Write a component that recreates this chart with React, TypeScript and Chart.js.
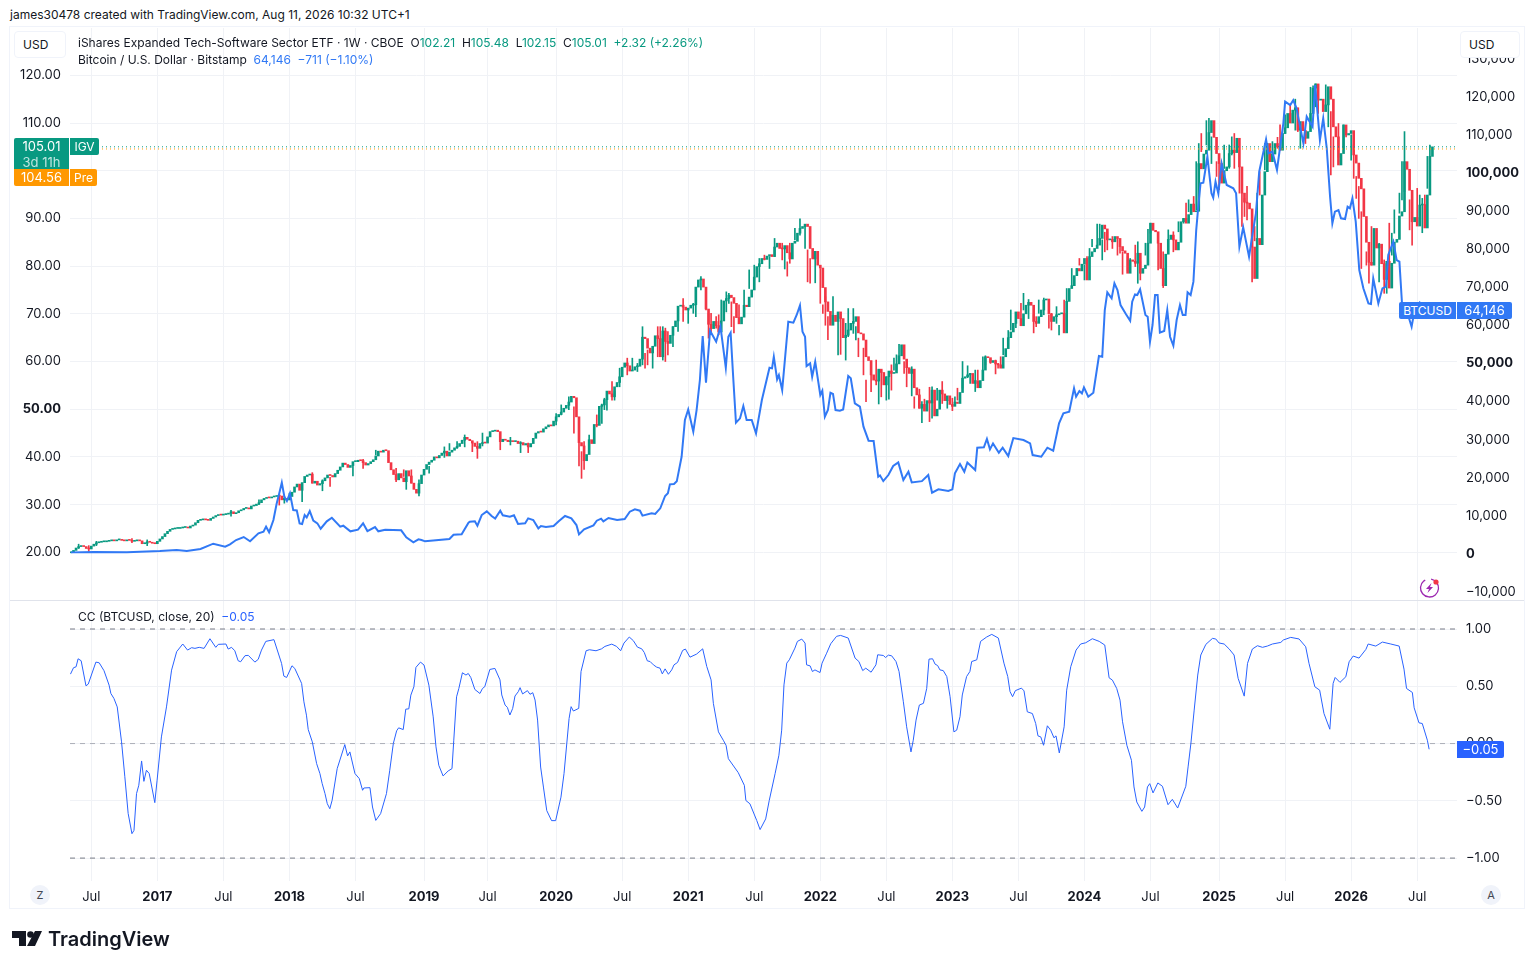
import { useEffect, useRef } from 'react';
import { Chart, registerables } from 'chart.js';

Chart.register(...registerables);
Chart.defaults.font.family = 'Inter, "Noto Sans", sans-serif';

const GREEN = '#089981';
const RED = '#F23645';
const ORANGE = '#FF9800';
const BTC_BLUE = '#3179F5';
const CC_BLUE = '#2962FF';
const GRID = '#F0F2F6';
const TEXT = '#131722';

// weekly IGV closes, one row per half year (each row starts at a time-axis tick)
const igvClose = [
  20.1, 20.4, 20.9, 21.2, 21.3, 21.2, 20.8, 20.7,
  21.3, 21.7, 22, 22.1, 22.2, 22.2, 22.3, 22.4, 22.5, 22.4, 22.6, 22.6, 22.5, 22.4, 22.6, 22.5, 22.3, 22.4, 22.5, 22.4, 21.8, 21.9, 22.2, 22.1, 21.9, 21.8,
  22.3, 22.8, 23.3, 23.9, 24.4, 24.8, 24.9, 25, 25, 25.1, 25.2, 25.3, 25.1, 25.5, 25.7, 26.2, 26.7, 26.8, 26.9, 26.8, 26.7, 27.1, 27.4, 27.7, 27.9, 27.8,
  27.9, 28, 28.2, 28.5, 28.1, 28.3, 28.7, 28.9, 29.2, 29.3, 29.1, 29.7, 29.8, 30.1, 30.4, 31, 31.3, 31.5, 31.4, 31.6, 31.7, 31.9, 31.8, 31, 31.3, 31,
  31.7, 32.6, 33.7, 34.3, 33, 34.6, 35.9, 36.2, 36.4, 34.5, 34.9, 34.1, 34.4, 35, 35.6, 36.2, 36.1, 35.8, 36.5, 37.2, 37.9, 38.7, 38.4, 37.8, 38.2, 39,
  39, 39.3, 39.2, 38.8, 38.3, 38.6, 39, 39.4, 40.2, 41.2, 41, 41.4, 41.3, 38.8, 37.3, 36.3, 35.2, 36.5, 35.6, 34.8, 37.1, 36, 34.5, 33.2, 32.4, 34.4, 36.2,
  37.4, 38.4, 38.9, 39.3, 40, 39.8, 40.3, 40.8, 41.2, 40.2, 41, 41.4, 41.9, 42.2, 42.8, 43.5, 44.1, 43.7, 43.4, 42.9, 42.2, 41.8, 42.8, 43, 42.9,
  44.2, 45.3, 45.4, 45.6, 45.3, 43.2, 43.7, 43.5, 43.2, 43.4, 43.2, 43.3, 42.8, 43, 42.5, 42.8, 42.1, 42.8, 43.9, 45, 45.3, 45.2, 45.9, 46.3, 46.7, 46.5, 47.5,
  48.4, 48.9, 49.4, 50.2, 50.8, 51.5, 52.7, 52.4, 48.4, 43, 42.3, 39.2, 40.5, 43.6, 42.8, 46.8, 46.6, 50.6, 50.9, 52, 53.8, 53.2, 52.6, 54.7, 55.6, 56.8,
  58.8, 59.7, 59.1, 58, 58.2, 58.9, 59, 60.5, 65.1, 64.8, 62.8, 61.8, 63.2, 65.4, 64.8, 61, 66.4, 64.2, 63.8, 65.5, 67.3, 68.5, 71.6, 71.8, 71.4, 70.8,
  71.2, 71.8, 71.9, 75.6, 77.1, 77.3, 75.6, 71, 67.8, 66.9, 68.4, 67.5, 66.2, 68.5, 72.7, 73.2, 73.9, 73.4, 72.2, 69.2, 67.9, 69.3, 71.8, 71.5, 73.5, 75, 77.7,
  79.9, 80.5, 81.6, 81.4, 82.1, 82.4, 82, 84, 84.8, 83.7, 83.6, 84.3, 82.8, 81.5, 84.8, 85.2, 86.9, 87.9, 88.3, 88.8, 88.3, 83.7, 81.5, 83.1, 80.2, 79.6,
  75.5, 72.5, 70.5, 67.6, 69.7, 68.4, 70.4, 69, 65, 65.5, 66.6, 68, 68.4, 69.4, 66, 65.8, 64.5, 61, 60.2, 57.2, 56.1, 55.9, 58.4, 57.7, 55.1, 56.8,
  58, 57.5, 57.6, 59.5, 61.2, 63.5, 60.5, 58.7, 57.5, 58.4, 54.5, 53, 50.2, 51, 49.6, 51.8, 51.3, 54, 48.6, 50, 54, 53.2, 51.8, 52.8, 51, 50.6,
  51.5, 51.2, 53.5, 56.5, 56.8, 57.2, 57.5, 55.4, 56, 54.5, 56, 58.2, 61, 60.8, 59.8, 60.2, 59.5, 59.3, 58.6, 61, 62.7, 65, 66.2, 68, 70.4, 69,
  67.5, 70, 71.8, 72.4, 71.8, 68.4, 68, 69.4, 70.8, 72.9, 73.1, 70, 68.4, 69.4, 69.8, 70, 70.1, 66, 72.6, 75.3, 75.9, 78, 79.5, 79, 80.4, 81.6,
  77.1, 82, 83, 83.7, 84.4, 85.8, 88.6, 87.8, 85.5, 85.6, 85.1, 86.2, 85.8, 84.1, 83.2, 82.7, 78.5, 81.3, 81, 80.6, 82.7, 78.5, 79.5, 80.2, 84.8, 89,
  87.5, 87.2, 84.8, 79.5, 75.9, 82.5, 85.6, 86.5, 85.5, 83.4, 85, 89.3, 90, 89, 90.8, 93, 91.4, 91.5, 101.5, 100.4, 103.5, 104.3, 108, 110.5, 107, 103.6, 101.5,
  97.4, 100, 100.8, 103.6, 104.3, 103.8, 106.8, 100.8, 95.3, 93.4, 93.2, 92, 84, 77.4, 85.8, 84.5, 94.9, 99.8, 105.7, 101.9, 103.5, 105.7, 105, 104.3, 107.8, 109,
  112, 110, 112.7, 113.2, 108.5, 110.3, 108.4, 106.8, 108.2, 112, 117.3, 118.2, 114.8, 115, 112.4, 113.8, 117.6, 115, 109.2, 107.1, 101.2, 103.6, 109.6, 107.5, 107.8, 108.4,
  103.3, 101.6, 98.4, 96.2, 90.4, 85, 80.8, 80.2, 87.9, 83.8, 84.6, 80.5, 77.2, 81, 75.4, 80.6, 85, 85.6, 90.5, 91.4, 101.9, 100.3, 95.9, 89.3, 90.2, 88.4,
  92.8, 92.9, 88, 94.9, 103, 105.01,
];

// visible wicks only: week number, low and high of that week
const wickWeek = [
  3, 7, 10, 24, 30, 63, 74, 82, 84, 86, 91, 95, 99, 102, 111, 115, 120, 128, 131, 132, 134, 137, 141, 147, 149, 152, 155, 158, 160,
  162, 169, 173, 177, 180, 191, 193, 196, 198, 200, 201, 202, 204, 207, 209, 210, 211, 213, 214, 216, 219, 221, 223, 225, 226, 227, 229,
  231, 232, 233, 234, 235, 237, 239, 241, 243, 245, 246, 248, 250, 251, 252, 254, 255, 256, 258, 259, 260, 261, 263, 265, 267, 269, 271,
  273, 275, 277, 280, 281, 282, 283, 285, 287, 289, 290, 291, 293, 295, 296, 297, 298, 300, 302, 303, 305, 306, 308, 309, 310, 312, 313,
  315, 317, 318, 319, 321, 322, 323, 324, 325, 326, 328, 329, 331, 332, 334, 335, 336, 338, 339, 341, 343, 345, 347, 348, 349, 351, 353,
  354, 356, 357, 359, 360, 362, 364, 365, 366, 367, 369, 370, 372, 374, 375, 377, 379, 380, 381, 383, 385, 386, 388, 389, 391, 392, 394,
  396, 397, 399, 400, 401, 402, 404, 405, 406, 407, 408, 410, 412, 413, 414, 416, 417, 419, 420, 421, 423, 424, 425, 428, 430, 432, 434,
  436, 438, 439, 440, 442, 443, 444, 445, 447, 448, 449, 451, 452, 454, 456, 457, 458, 460, 461, 462, 463, 465, 466, 467, 468, 470, 471,
  473, 475, 476, 478, 480, 482, 483, 484, 486, 488, 489, 490, 491, 494, 495, 496, 497, 499, 501, 502, 504, 505, 506, 507, 508, 510, 511,
  512, 513, 515, 517, 518, 519, 520, 521, 523, 524, 525, 527, 528, 530, 531, 532, 533, 534, 535,
];
const wickLow = [
  20.8, 20.2, 21.4, 22, 21.4, 27.6, 30, 29.9, 30.3, 31, 30.6, 34.5, 32.9, 33.8, 36, 37.6, 40.4, 34.8, 35.9, 33.2, 34.5, 31.8, 36.6, 39.9, 41.4, 41.8, 42.1, 41.1, 39.7,
  42.3, 41.5, 42.5, 40.9, 40.9, 46.7, 48.8, 49.9, 45, 38.1, 35.5, 37.4, 41.1, 46.3, 47, 49.9, 49.8, 51.9, 51.9, 54.7, 57.2, 58.2, 57.9, 59.3, 58.6, 59.3, 58.6,
  61, 63.5, 60.3, 60, 61.4, 63.1, 66.3, 68.4, 68, 70.1, 69.4, 75, 70.8, 64.9, 65.9, 67, 65.6, 68, 70.4, 72.2, 67.3, 66, 68.4, 71.9, 75.3, 77.1, 76.7,
  81.3, 79.5, 82, 81.3, 79.4, 77.9, 80.6, 85.5, 86.5, 83.7, 76.7, 76.4, 76.5, 72.2, 70.1, 67.6, 64.6, 68, 61.4, 61.5, 60.3, 65.2, 65.9, 64.5, 61, 57.2, 51.6,
  53.7, 55.1, 51.1, 52.6, 51.9, 52.1, 54, 58.2, 58.2, 60.3, 57.5, 54.7, 52.8, 50.2, 50.2, 47.2, 49.7, 47.4, 48.1, 51.9, 51.2, 50.2, 49.7, 51.1, 51.9, 54.4, 56.6,
  55.4, 53.7, 56.1, 57.5, 59.3, 59.6, 57.4, 58.6, 58.9, 61.4, 64.5, 66.6, 67.1, 67.6, 70.8, 69, 66, 67.3, 70.1, 69.8, 67, 66.6, 68, 65.6, 68.7, 72.5, 75.8,
  78.1, 80.2, 77.1, 77.4, 81.6, 84.1, 84.4, 85.5, 81.3, 83, 83.4, 83.7, 82.3, 82.7, 78.3, 79, 80.6, 79.9, 76.4, 77.1, 82.3, 84.8, 86.9, 79.2, 75.5, 85.5, 83,
  87.2, 89, 89.7, 91.4, 91.8, 91.8, 100.9, 104, 105.4, 105.7, 101.5, 98.8, 96, 100.5, 100.5, 103.3, 100.5, 95.3, 88.3, 90.4, 89.7, 76.7, 85.3, 83, 94.9, 100.2, 101.2,
  102.6, 104.7, 104.3, 107.8, 110.6, 108.5, 108.2, 104.7, 105.7, 112, 114.7, 113.4, 112, 112.7, 109.2, 99.1, 100.8, 102.8, 104.7, 107.1, 102.2, 98.4, 94.2, 90, 79.5, 80.2, 76.4,
  80.2, 82.7, 76.7, 74.3, 74.3, 80.6, 82.3, 86.9, 91.1, 93.9, 95.6, 87.6, 84.4, 89.7, 90.4, 87, 89.7, 96.3, 102.2,
];
const wickHigh = [
  21.7, 21.4, 22.3, 22.9, 22.6, 28.8, 31, 32, 31.7, 32.4, 34.5, 36.7, 35.2, 35.7, 38.3, 39.5, 41.4, 37.6, 37.3, 35.9, 37.3, 35.2, 38, 42.1, 42.8, 43.2, 44.6, 43.2, 43.2,
  45, 43.7, 44.1, 43.2, 42.9, 49.1, 50.9, 52.6, 50.5, 44.6, 41.1, 43.2, 44.6, 48.8, 51.1, 52.3, 53.5, 55.8, 53.7, 58.6, 60.7, 60.7, 59.6, 67.3, 61.7, 62.4, 62.1,
  67.3, 67.3, 67.3, 67, 66.3, 67.3, 68.4, 73.2, 71.1, 72.2, 72.9, 77.8, 75.3, 70.1, 70.1, 69.4, 69.8, 72.9, 74.6, 74.3, 72.5, 69.4, 71.9, 75, 79.2, 80.2, 81.6,
  82.3, 82, 85.8, 84.8, 83.7, 80.9, 84.8, 87.9, 89.9, 88.6, 83.4, 81.6, 82, 79.5, 71.9, 73.6, 69.4, 73.6, 69.4, 69.4, 68, 71.1, 71.1, 67.3, 64.9, 62.8, 56.1,
  59.3, 60.3, 58.2, 58.2, 56.8, 57.5, 59.3, 60.7, 61.4, 63.6, 60, 58.6, 58.9, 52.6, 54.2, 51.6, 52.1, 54.6, 54.7, 54.4, 55.8, 51.9, 52.3, 52.6, 54.4, 60, 59.1,
  57.5, 58.2, 58.2, 61, 61.2, 60.5, 60.3, 59.6, 61, 64.9, 66.5, 70.8, 69.5, 72.2, 74.3, 73, 69.8, 69.4, 72.9, 73.3, 69.8, 70.1, 71.5, 67.6, 72.9, 75.3, 79.5,
  79.5, 81.6, 80.2, 82, 83.7, 85.6, 88.8, 88.8, 85.5, 87.1, 87.2, 86.2, 85.8, 85.5, 83, 82, 81.6, 84.4, 85.1, 80.9, 84.8, 87.7, 89, 85.8, 83, 87.6, 87.2,
  89.3, 90, 93.2, 93.9, 94.6, 101.9, 105.7, 107.8, 110.5, 111, 107.1, 101.9, 102.6, 105.4, 105.4, 107.1, 107.8, 100.8, 98.8, 94.2, 96.7, 89.7, 88.3, 95.3, 99.8, 105.7, 105.7,
  106.1, 107, 109.6, 111.7, 113.8, 115, 110.3, 109.6, 108.5, 117.5, 117.8, 118.2, 115.9, 118, 116.6, 112.4, 107.1, 109.9, 109.6, 108.9, 107.5, 105.4, 98.8, 96.7, 91.4, 83, 82.7,
  88.3, 87.2, 84.8, 81.3, 80.6, 89, 86.9, 91.8, 95.3, 101.9, 108.2, 93.9, 95.3, 96.3, 94.9, 94.2, 94.9, 103, 105.4,
];

const btcWeek = [
  0, 9, 22, 35, 41.6, 45.6, 51, 56, 60.7, 62.6, 65, 68, 70.5, 73.8, 75.8, 76.8, 78, 79.7, 81, 82, 83, 84, 85, 86.2, 87.5, 88.9, 90, 91, 92, 92.8, 94, 95.4, 97, 98.3,
  100.7, 102.7, 106, 107.2, 110, 113, 115, 116.7, 119.7, 121, 123.7, 130, 132, 134.8, 136.8, 138, 139.4, 149, 150.6, 153.8, 156.5,
  157, 159, 160, 161.7, 163.7, 165.6, 167, 169, 170, 172.8, 174.4, 176, 178.8, 180, 182, 184, 185, 187, 190, 192, 194.5, 197, 199, 200, 202, 205.7, 207, 208.7, 209.6, 211.6,
  215, 218, 220, 222, 224, 225, 228.6, 230, 232, 233.9, 235, 235.8, 237.4, 238.5, 239.5, 240.4, 241.7, 243, 245, 246.3, 247.6, 248.7, 250, 251.6, 254, 255.7, 257.8, 258.8, 259.7,
  260.7, 261.8, 263.4, 264.7, 266, 268, 269.7, 272, 275, 276, 276.7, 278, 278.7, 280, 282.4, 284.4, 285.7, 287, 288, 289, 289.6, 291, 291.8, 293, 295, 295.8, 296.8, 298, 299,
  300, 301, 302.7, 304, 306, 307, 308.6, 310.6, 312, 314, 316, 317.8, 318.5, 319.8, 321.8, 323.7, 325.7, 327.7, 329.7, 331, 335, 337.5, 339, 341.5, 345.4, 347, 348, 350, 351.7, 352.9,
  356, 356.8, 359.4, 360.6, 361.8, 363, 365.3, 366.8, 369, 371, 375, 377.6, 378.6, 382, 384.4, 386.7, 389, 390.7, 393, 394.9, 395.7, 397, 398, 398.8, 400.5, 402.5, 404.7, 406, 407, 408,
  409.7, 410.8, 412, 413.2, 415.3, 417, 417.8, 418.9, 419.8, 420.9, 423, 423.9, 424.8, 425.8, 426.8, 427.8, 428.7, 430.4, 431.6, 432.7, 434, 435.3, 436.6, 437.7, 438.8, 439.6, 440.8, 441.9,
  443, 443.8, 444.7, 445.8, 447.4, 449, 449.7, 450.6, 451.7, 453, 455, 457.6, 458.7, 460, 461.5, 463.8, 464.8, 466.5, 467.8, 470.5, 471.4, 473, 474.8, 477.3, 478, 480, 481.2, 482.5, 483.9,
  485.2, 486.5, 488.8, 489.8, 491.7, 493, 494.4, 495.7, 496.6, 497.6, 499, 500, 501.6, 502.6, 503.5, 504.5, 505.8, 507.2, 508.8, 510.8, 511.8, 512.7, 514.7, 516.3, 517.7, 518.6, 520.6, 521.9,
  523, 524.1, 525.8, 527.8, 528.5, 531, 535,
];
const btcPrice = [
  400, 500, 450, 750, 1000, 750, 1280, 2680, 1900, 2500, 3640, 4430, 3300, 5400, 5830, 7150, 5660, 8900, 13270, 15900, 18700, 15000, 13880, 15900, 11500, 11400, 8000, 7840, 10200, 9590, 11250, 8720, 8020, 6620,
  8540, 9500, 7140, 7400, 5920, 6360, 8020, 6000, 7050, 5920, 6360, 6180, 4340, 3030, 3820, 3640, 3300, 3900, 5040, 5130, 8200,
  8450, 8545, 7400, 10200, 11170, 9950, 9250, 11340, 10120, 9770, 10120, 7850, 8020, 9330, 8900, 6700, 7320, 7050, 7320, 8550, 9950, 9330, 7580, 5130, 6450, 7500, 8720, 9250, 8550, 9420,
  8900, 9160, 11080, 11695, 11340, 10030, 10640, 10470, 11960, 15200, 15900, 18260, 18350, 19050, 22460, 25500, 35137, 37900, 32075, 37760, 45640, 57187, 44937, 58587, 55700, 59637, 48870, 57000, 58060,
  46500, 34437, 35575, 38800, 35137, 35137, 31637, 40387, 48870, 48700, 51760, 45800, 46950, 43000, 60950, 60690, 62700, 65237, 58300, 57000, 49300, 50000, 46500, 50450, 41700, 42835, 36000, 37760, 42300,
  42000, 37760, 37585, 37900, 46690, 46070, 39500, 38640, 33387, 29710, 29620, 20260, 20610, 19100, 20700, 23060, 24000, 19360, 21570, 18770, 19100, 20700, 16060, 16937, 16500, 16937, 21137, 23587, 21570, 24000,
  22000, 27870, 27960, 30150, 27435, 29000, 26560, 27870, 25687, 30400, 29880, 29000, 25950, 25500, 27870, 27087, 34262, 36887, 37325, 43450, 41260, 42750, 42137, 43700, 41260, 42300, 51937, 51760, 64000, 68650,
  67070, 71000, 69260, 65320, 62960, 61200, 66200, 68120, 67950, 69440, 62700, 62260, 55700, 60075, 67950, 67950, 58060, 58500, 64000, 57000, 54650, 61387, 65320, 62700, 62700, 68650, 67950, 71450,
  85000, 91100, 97250, 97430, 104257, 94630, 93500, 97700, 94630, 102500, 96820, 95950, 94630, 80630, 85700, 78000, 82380, 89380, 100320, 108800, 105130, 105570, 100760, 113000, 118700, 117800, 119100, 116940, 112130,
  107760, 114760, 112130, 123070, 108630, 114320, 106440, 93750, 86750, 89820, 90250, 88070, 87900, 91130, 90700, 93320, 87200, 74500, 69700, 65750, 65580, 72320, 65750, 69700, 70130, 78440, 81950, 77130,
  76700, 64880, 64000, 59630, 62250, 66000, 64146,
];

const ccWeek = [
  -0.2, 1, 2, 2.8, 4, 5.9, 6.8, 9.8, 11.1, 13, 15, 15.7, 16.9, 18.2, 19.9, 21.2, 22.5, 24, 24.8, 25.8, 26.7, 27.8, 28.7, 29.7, 30.8, 33, 33.9, 35.6, 37.6, 39.6, 41.6, 44, 45.9, 47.5, 48.8, 50.5, 52.4, 54.7, 57, 58, 61, 61.9, 63.2, 64.5, 65.8, 66.8, 68.5, 69.8, 72.4, 73.7, 75, 76.7, 79.9, 82.9, 83.8, 84.9, 87, 88.1, 90.8, 91.7, 92.7, 93.4, 95, 96.7, 98, 98.9, 100, 100.9, 101.9, 102.8, 104.8, 107.8, 108.9, 109.8, 111.8, 113.5, 114.8, 115.3, 117.7, 118.7, 120, 121.9, 124.2, 125.5, 126.9, 128.2, 129, 130.8, 131.8, 133, 133.8, 135, 135.8, 137.6, 139, 140.9, 142.6, 143.7, 144.8, 146.5, 148.5, 150, 150.7, 151.8, 152.7, 154.1, 155.5, 156.4, 157.4, 159, 161, 162, 162.9, 164.9, 166.9,
  168.9, 169.6, 170.9, 171.8, 172.8, 173.9, 174.8, 176.1, 176.8, 177.8, 179.7, 180.7, 181.8, 182.7, 183.7, 184.9, 186, 187.3, 189.2, 190.8, 192.9, 194.1, 196.1, 196.9, 197.8, 199.9, 200.8, 202.8, 204.1, 206.7, 208.9, 210.2, 212.9, 214.8, 216.4, 217.7, 219.8, 221.4, 223, 224.7, 225.7, 226.9, 228, 229.3, 230.6, 231.9, 232.8, 233.9, 235.2, 236.5, 237.4, 238.8, 240.8, 241.9, 243.7, 246.3, 248.7, 250.3, 252, 252.9, 254.9, 256.8, 257.9, 258.8, 262.7, 265.1, 265.7, 267.3, 270, 271.3, 273.5, 274.9,
  277.2, 278.7, 279.8, 280.7, 281.8, 282.8, 285, 286, 287.7, 289, 289.6, 291, 291.9, 292.9, 294.9, 295.7, 297.5, 299.1, 301.4, 303, 306, 308.7, 310.2, 311.7, 312.9, 315, 316.9, 317.6, 319.8, 320.7, 321.8, 323.1, 324.8, 326, 327.7, 329, 330.7, 331.6, 332.7, 334, 335.6, 336.9, 337.8, 339.2, 340.2, 341.2, 342.1, 343.4, 344.8, 346.1, 347.6, 348.7, 350, 350.9, 352.6, 353.9, 354.6, 356.6, 358.1, 360.5, 362.5, 365.1, 367.3, 368.8, 369.7, 370.7,
  371.8, 374.2, 375.2, 376.5, 378.5, 379.8, 380.7, 381.8, 382.9, 384.4, 385.7, 387, 387.8, 389.1, 391, 392, 393.6, 395.7, 397.5, 399.5, 402.1, 404.8, 407, 408.7, 410, 411.7, 413, 414, 415.7, 417.5, 418.5, 419.6, 421.6, 422.7, 423.8, 424.7, 426, 427.9, 429.7, 431.9, 433.6, 435.7, 438.9, 439.8, 440.9, 442.2, 443.6, 444.8, 446.8, 449.4, 450.7, 452, 454, 456, 457.9, 459.5, 461.9, 463.2, 465.1, 467.1, 469.1, 471, 473, 476.3, 477.3, 480.2, 483.5, 486.1, 487.4, 489.7, 491.6, 493.3, 495.6, 496.9, 497.7, 499.6, 501.9, 503.2, 504.8, 507.1, 509.8, 510.7, 513.7, 516.3, 519.6, 522.9, 524.8, 525.8, 528.1, 528.8, 530.7, 532, 534, 534.7,
];
const ccValue = [
  0.606, 0.662, 0.67, 0.74, 0.723, 0.504, 0.519, 0.711, 0.705, 0.636, 0.51, 0.437, 0.394, 0.32, 0.015, -0.29, -0.61, -0.787, -0.758, -0.437, -0.364, -0.152, -0.33, -0.233, -0.262, -0.516, -0.32, 0.058, 0.32, 0.641, 0.802, 0.869, 0.816, 0.837, 0.831, 0.84, 0.831, 0.915, 0.84, 0.866, 0.869, 0.825, 0.84, 0.81, 0.723, 0.714, 0.767, 0.77, 0.711, 0.735, 0.816, 0.892, 0.907, 0.7, 0.589, 0.577, 0.679, 0.656, 0.525, 0.364, 0.248, 0.122, 0.015, -0.175, -0.262, -0.35, -0.437, -0.525, -0.569, -0.496, -0.219, -0.009, -0.108, -0.073, -0.262, -0.306, -0.408, -0.388, -0.385, -0.554, -0.671, -0.612, -0.437, -0.233, 0, 0.111, 0.137, 0.122, 0.3, 0.303, 0.423, 0.496, 0.665, 0.711, 0.685, 0.51, 0.233, -0.029, -0.19, -0.283, -0.239, -0.219, 0.029, 0.408, 0.481, 0.618, 0.598, 0.612, 0.577, 0.472, 0.437, 0.481, 0.496, 0.647, 0.656,
  0.556, 0.424, 0.336, 0.316, 0.249, 0.307, 0.415, 0.453, 0.488, 0.433, 0.462, 0.43, 0.444, 0.38, 0.205, -0.205, -0.38, -0.585, -0.673, -0.673, -0.468, -0.263, 0.219, 0.322, 0.284, 0.307, 0.629, 0.81, 0.819, 0.81, 0.827, 0.848, 0.868, 0.848, 0.81, 0.877, 0.93, 0.898, 0.842, 0.827, 0.795, 0.722, 0.716, 0.687, 0.667, 0.658, 0.608, 0.652, 0.605, 0.643, 0.687, 0.708, 0.813, 0.825, 0.754, 0.781, 0.827, 0.673, 0.556, 0.351, 0.102, 0.029, -0.015, -0.132, -0.254, -0.365, -0.497, -0.526, -0.673, -0.751, -0.658, -0.497,
  -0.263, -0.102, 0.117, 0.512, 0.702, 0.731, 0.833, 0.892, 0.912, 0.877, 0.687, 0.678, 0.629, 0.643, 0.62, 0.702, 0.789, 0.871, 0.936, 0.944, 0.921, 0.746, 0.716, 0.637, 0.658, 0.623, 0.687, 0.775, 0.769, 0.751, 0.772, 0.766, 0.716, 0.629, 0.365, 0.146, -0.073, 0.029, 0.205, 0.336, 0.351, 0.482, 0.737, 0.74, 0.693, 0.681, 0.643, 0.637, 0.585, 0.409, 0.102, 0.117, 0.234, 0.424, 0.585, 0.629, 0.716, 0.731, 0.892, 0.93, 0.953, 0.921, 0.702, 0.585, 0.453, 0.409,
  0.462, 0.484, 0.46, 0.277, 0.262, 0.175, 0.067, 0.058, -0.015, 0.155, 0.117, 0.05, 0.067, -0.082, 0.146, 0.466, 0.671, 0.816, 0.869, 0.88, 0.915, 0.892, 0.86, 0.574, 0.554, 0.481, 0.379, 0.19, -0.015, -0.146, -0.379, -0.51, -0.592, -0.554, -0.379, -0.35, -0.431, -0.344, -0.373, -0.534, -0.487, -0.563, -0.373, -0.204, 0, 0.292, 0.598, 0.773, 0.866, 0.918, 0.913, 0.878, 0.869, 0.825, 0.773, 0.569, 0.414, 0.7, 0.825, 0.854, 0.84, 0.851, 0.869, 0.883, 0.904, 0.927, 0.913, 0.845, 0.7, 0.496, 0.466, 0.262, 0.125, 0.525, 0.577, 0.534, 0.583, 0.714, 0.764, 0.746, 0.822, 0.869, 0.851, 0.886, 0.869, 0.851, 0.65, 0.481, 0.446, 0.312, 0.181, 0.175, 0.029, -0.05,
];

// time axis
const tickWeeks = [8, 34, 60, 86, 112, 139, 164, 191, 217, 243, 269, 295, 321, 347, 373, 399, 425, 452, 478, 504, 530];
const tickLabels = ['Jul', '2017', 'Jul', '2018', 'Jul', '2019', 'Jul', '2020', 'Jul', '2021', 'Jul', '2022', 'Jul', '2023', 'Jul', '2024', 'Jul', '2025', 'Jul', '2026', 'Jul'];

const priceTicks = [20, 30, 40, 50, 60, 70, 80, 90, 100, 110, 120];
const btcTicks = [-10000, 0, 10000, 20000, 30000, 40000, 50000, 60000, 70000, 80000, 90000, 100000, 110000, 120000, 130000];
const ccTicks = [-1, -0.5, 0, 0.5, 1];

const lastClose = 105.01;
const preMarket = 104.56;
const WEEK_MIN = -0.39;
const WEEK_MAX = 545.67;

const minus = (s: string) => s.replace('-', '\u2212');

function timeScale(showLabels: boolean) {
  return {
    type: 'linear' as const,
    min: WEEK_MIN,
    max: WEEK_MAX,
    offset: false,
    border: { display: false },
    grid: { color: GRID, offset: false, drawTicks: false },
    afterBuildTicks: (axis: any) => { axis.ticks = tickWeeks.map(value => ({ value })); },
    afterFit: (axis: any) => {
      axis.height = showLabels ? 27 : 0;
      axis.paddingLeft = 0;
      axis.paddingRight = 0;
    },
    ticks: {
      display: showLabels,
      autoSkip: false,
      maxRotation: 0,
      padding: 8,
      color: TEXT,
      font: (c: any) => ({ size: 13, weight: tickLabels[c.index]?.length === 4 ? 'bold' : 'normal' }),
      callback: (_v: any, i: number) => tickLabels[i],
    },
  };
}

function valueScale(position: 'left' | 'right', width: number, ticks: number[], min: number, max: number, fmt: (v: number) => string, bold: number[], grid: boolean) {
  return {
    type: 'linear' as const,
    position,
    min,
    max,
    border: { display: false },
    grid: { display: grid, color: GRID, drawTicks: false },
    afterBuildTicks: (axis: any) => { axis.ticks = ticks.map(value => ({ value })); },
    afterFit: (axis: any) => {
      axis.width = width;
      axis.paddingTop = 0;
      axis.paddingBottom = 0;
    },
    ticks: {
      padding: 9,
      color: TEXT,
      font: (c: any) => ({ size: 13, weight: bold.includes(c.tick?.value) ? 'bold' : 'normal' }),
      callback: (v: any) => fmt(Number(v)),
    },
  };
}

function Tag({ x, y, w, h, bg, color = '#fff', text, size = 12, align = 'center', radius = 0 }: any) {
  return (
    <div style={{
      position: 'absolute', left: x, top: y, width: w, height: h, background: bg, color, fontSize: size,
      lineHeight: h + 'px', textAlign: align, borderRadius: radius, whiteSpace: 'pre',
    }}>{text}</div>
  );
}

function Text({ x, y, children, size = 12, color = TEXT, weight = 400 }: any) {
  return <div style={{ position: 'absolute', left: x, top: y, fontSize: size, color, fontWeight: weight, lineHeight: '16px', whiteSpace: 'pre' }}>{children}</div>;
}

export default function App() {
  const mainRef = useRef<HTMLCanvasElement>(null);
  const ccRef = useRef<HTMLCanvasElement>(null);

  useEffect(() => {
    const upDown = igvClose.map((c, i) => (i === 0 || c >= igvClose[i - 1] ? GREEN : RED));
    const main = new Chart(mainRef.current!, {
      type: 'bar',
      data: {
        datasets: [
          {
            type: 'line', yAxisID: 'yBtc', order: 0, borderColor: BTC_BLUE, borderWidth: 2, pointRadius: 0,
            data: btcWeek.map((x, i) => ({ x, y: btcPrice[i] })),
          },
          {
            type: 'line', yAxisID: 'y', order: -1, borderColor: GREEN, borderWidth: 1, borderDash: [1, 3], pointRadius: 0,
            data: [{ x: WEEK_MIN, y: lastClose }, { x: WEEK_MAX, y: lastClose }],
          },
          {
            type: 'line', yAxisID: 'y', order: -1, borderColor: ORANGE, borderWidth: 1, borderDash: [1, 3], pointRadius: 0,
            data: [{ x: WEEK_MIN, y: preMarket }, { x: WEEK_MAX, y: preMarket }],
          },
          {
            type: 'bar', yAxisID: 'y', order: 1, grouped: false, barThickness: 2, minBarLength: 1,
            backgroundColor: upDown,
            data: igvClose.map((c, i) => ({ x: i, y: [i === 0 ? c - 0.2 : igvClose[i - 1], c] })),
          },
          {
            type: 'bar', yAxisID: 'y', order: 2, grouped: false, barThickness: 1,
            backgroundColor: wickWeek.map(w => upDown[w]),
            data: wickWeek.map((x, i) => ({ x, y: [wickLow[i], wickHigh[i]] })),
          },
        ] as any,
      },
      options: {
        responsive: false,
        animation: false,
        layout: { padding: 0 },
        plugins: { legend: { display: false }, tooltip: { enabled: false } },
        scales: {
          x: timeScale(false),
          y: valueScale('left', 60, priceTicks, 10, 129.92, v => v.toFixed(2), [50], true),
          yBtc: valueScale('right', 67, btcTicks, -12100, 138031, v => minus(v.toLocaleString('en-US')), [0, 50000, 100000], false),
        } as any,
      },
    });

    const levelLine = (y: number, color: string) => ({
      type: 'line', order: 1, borderColor: color, borderWidth: 1, borderDash: [5, 5], pointRadius: 0,
      data: [{ x: WEEK_MIN, y }, { x: WEEK_MAX, y }],
    });

    const cc = new Chart(ccRef.current!, {
      type: 'line',
      data: {
        datasets: [
          levelLine(1, '#787B86'),
          levelLine(0, '#ACAFB8'),
          levelLine(-1, '#787B86'),
          {
            type: 'line', order: 0, borderColor: CC_BLUE, borderWidth: 1, pointRadius: 0,
            data: ccWeek.map((x, i) => ({ x, y: ccValue[i] })),
          },
        ] as any,
      },
      options: {
        responsive: false,
        animation: false,
        layout: { padding: 0 },
        plugins: { legend: { display: false }, tooltip: { enabled: false } },
        scales: {
          x: timeScale(true),
          y: { ...valueScale('right', 67, ccTicks, -1.2, 1.2445, v => minus(v.toFixed(2)), [], true) },
          yLeft: { ...valueScale('left', 60, [], -1.2, 1.2445, v => String(v), [], false), ticks: { display: false } },
        } as any,
      },
    });

    return () => { main.destroy(); cc.destroy(); };
  }, []);

  return (
    <div style={{ position: 'absolute', left: 0, top: 0, width: 1534, height: 969, background: '#fff', overflow: 'hidden', fontFamily: 'Inter, "Noto Sans", sans-serif', color: TEXT }}>
      <Text x={10} y={7}>james30478 created with TradingView.com, Aug 11, 2026 10:32 UTC+1</Text>
      <div style={{ position: 'absolute', left: 9, top: 26, width: 1514, height: 881, border: '1px solid #F0F3FA' }} />
      <canvas ref={mainRef} width={1514} height={572} style={{ position: 'absolute', left: 10, top: 28 }} />
      <div style={{ position: 'absolute', left: 10, top: 600, width: 1514, height: 1, background: '#E0E3EB' }} />
      <canvas ref={ccRef} width={1514} height={307} style={{ position: 'absolute', left: 10, top: 601 }} />

      <div style={{ position: 'absolute', left: 14, top: 31, width: 42, height: 25, border: '1px solid #F0F3FA', borderRadius: 4, background: '#fff', fontSize: 12, lineHeight: '25px', paddingLeft: 8 }}>USD</div>
      <div style={{ position: 'absolute', left: 1460, top: 31, width: 50, height: 25, border: '1px solid #F0F3FA', borderRadius: 4, background: '#fff', fontSize: 12, lineHeight: '25px', paddingLeft: 8 }}>USD</div>

      <Text x={78} y={35}>
        iShares Expanded Tech-Software Sector ETF · 1W · CBOE  <span style={{ color: GREEN }}><span style={{ color: TEXT }}>O</span>102.21  <span style={{ color: TEXT }}>H</span>105.48  <span style={{ color: TEXT }}>L</span>102.15  <span style={{ color: TEXT }}>C</span>105.01  +2.32 (+2.26%)</span>
      </Text>
      <Text x={78} y={52}>
        Bitcoin / U.S. Dollar · Bitstamp  <span style={{ color: BTC_BLUE }}>64,146  −711 (−1.10%)</span>
      </Text>
      <Text x={78} y={609}>
        CC (BTCUSD, close, 20)  <span style={{ color: CC_BLUE }}>−0.05</span>
      </Text>

      <Tag x={14} y={138} w={55} h={17} bg={GREEN} size={13} text="105.01" radius="2px 0 0 0" />
      <Tag x={14} y={155} w={55} h={14} bg={GREEN} color="#BFE5DF" size={13} text="3d 11h" />
      <Tag x={70} y={138} w={29} h={17} bg={GREEN} text="IGV" radius="0 2px 2px 0" />
      <Tag x={14} y={169} w={55} h={17} bg={ORANGE} size={13} text="104.56" radius="0 0 0 2px" />
      <Tag x={70} y={169} w={27} h={17} bg={ORANGE} text="Pre" radius="0 2px 2px 0" />

      <Tag x={1399} y={302} w={57} h={17} bg={BTC_BLUE} text="BTCUSD" radius="2px 0 0 2px" />
      <Tag x={1457} y={302} w={55} h={17} bg={BTC_BLUE} size={13} text="64,146" radius="0 2px 2px 0" />
      <Tag x={1457} y={741} w={47} h={17} bg={CC_BLUE} size={13} text="−0.05" radius="0 2px 2px 0" />

      <div style={{ position: 'absolute', left: 30, top: 885, width: 20, height: 20, borderRadius: 10, background: '#F0F3FA', fontSize: 11, lineHeight: '20px', textAlign: 'center', color: '#434651' }}>Z</div>
      <div style={{ position: 'absolute', left: 1481, top: 885, width: 20, height: 20, borderRadius: 10, background: '#F0F3FA', fontSize: 11, lineHeight: '20px', textAlign: 'center', color: '#434651' }}>A</div>

      <svg width="24" height="24" style={{ position: 'absolute', left: 1418, top: 576 }}>
        <circle cx="11.5" cy="12" r="9" fill="none" stroke="#9C27B0" strokeWidth="1.3" strokeDasharray="44 6" transform="rotate(-40 11.5 12)" />
        <path d="M13.5 7 L8 13 L11 13 L9.5 17 L15 11 L12 11 Z" fill="#9C27B0" />
        <circle cx="18" cy="6" r="2.6" fill="#F23645" />
      </svg>

      <svg width="32" height="16" style={{ position: 'absolute', left: 12, top: 931 }}>
        <path d="M0 0 H14 V15 H7 V7 H0 Z M23 0 H30 L23 15 H15 Z" fill="#131722" />
        <circle cx="18.5" cy="3.5" r="3.3" fill="#131722" />
      </svg>
      <Text x={48} y={931} size={20} weight={600}>TradingView</Text>
    </div>
  );
}
